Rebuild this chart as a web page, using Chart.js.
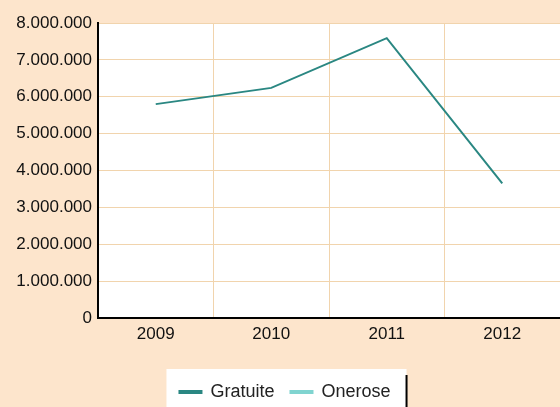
<!DOCTYPE html>
<html>
<head>
<meta charset="utf-8">
<script src="https://cdn.jsdelivr.net/npm/chart.js@4/dist/chart.umd.min.js"></script>
<style>
  html, body { margin: 0; padding: 0; background: #fde5cc; }
  #wrap { width: 560px; height: 407px; position: relative; }
</style>
</head>
<body>
<div id="wrap"><canvas id="myChart" width="560" height="407"></canvas></div>
<script>
// dati del grafico
var anni = ['2009', '2010', '2011', '2012'];
var gratuite = [5800000, 6240000, 7590000, 3650000];
var onerose = [null, null, null, null];
var yTicks = [0, 1000000, 2000000, 3000000, 4000000, 5000000, 6000000, 7000000, 8000000];

function puntini(v) {
    return String(v).replace(/\B(?=(\d{3})+(?!\d))/g, '.');
}

// sfondo bianco area grafico + riquadro legenda
var sfondi = {
    id: 'sfondi',
    beforeDraw: function(chart) {
        var ctx = chart.ctx;
        var a = chart.chartArea;
        ctx.save();
        ctx.fillStyle = '#ffffff';
        ctx.fillRect(a.left, a.top, a.right - a.left, a.bottom - a.top);

        var leg = chart.legend;
        if (leg && leg.legendHitBoxes && leg.legendHitBoxes.length) {
            var boxes = leg.legendHitBoxes;
            var l = boxes[0].left, r = 0, cy = boxes[0].top + boxes[0].height / 2;
            boxes.forEach(function(b) {
                l = Math.min(l, b.left);
                r = Math.max(r, b.left + b.width);
            });
            ctx.fillStyle = '#ffffff';
            ctx.fillRect(l - 13, cy - 23, (r + 16) - (l - 13), chart.height - (cy - 23));
            ctx.fillStyle = '#000000';
            ctx.fillRect(r + 15, cy - 17, 2, chart.height - (cy - 17));
        }
        ctx.restore();
    }
};

var ctx = document.getElementById('myChart');
var myChart = new Chart(ctx, {
    type: 'line',
    data: {
        labels: anni,
        datasets: [{
            label: 'Gratuite',
            data: gratuite,
            borderColor: '#2a8782',
            backgroundColor: '#2a8782',
            borderWidth: 2,
            pointRadius: 0,
            fill: false,
            tension: 0
        }, {
            label: 'Onerose',
            data: onerose,
            borderColor: '#80d4d0',
            backgroundColor: '#80d4d0',
            borderWidth: 2,
            pointRadius: 0,
            fill: false
        }]
    },
    options: {
        responsive: false,
        animation: false,
        layout: { padding: { top: 23, right: 0, bottom: -4, left: 10 } },
        plugins: {
            legend: {
                position: 'bottom',
                labels: {
                    boxWidth: 22,
                    boxHeight: 2,
                    padding: 16,
                    color: '#222',
                    font: { family: 'Liberation Sans', size: 18 }
                }
            },
            tooltip: { enabled: false }
        },
        scales: {
            x: {
                offset: true,
                grid: { color: '#f1d4ad', lineWidth: 1, drawTicks: false, offset: true },
                border: { color: '#000', width: 2 },
                ticks: { color: '#111', padding: 6, font: { family: 'Liberation Sans', size: 17 } },
                afterFit: function(scale) { scale.height = 49; }
            },
            y: {
                min: 0,
                max: 8000000,
                afterBuildTicks: function(scale) {
                    scale.ticks = yTicks.map(function(v) { return { value: v }; });
                },
                grid: { color: '#f1d4ad', lineWidth: 1, drawTicks: false },
                border: { color: '#000', width: 2 },
                ticks: {
                    color: '#111',
                    padding: 6,
                    font: { family: 'Liberation Sans', size: 17 },
                    callback: function(v) { return puntini(v); }
                },
                afterFit: function(scale) { scale.width = 88; }
            }
        }
    },
    plugins: [sfondi]
});
</script>
</body>
</html>
